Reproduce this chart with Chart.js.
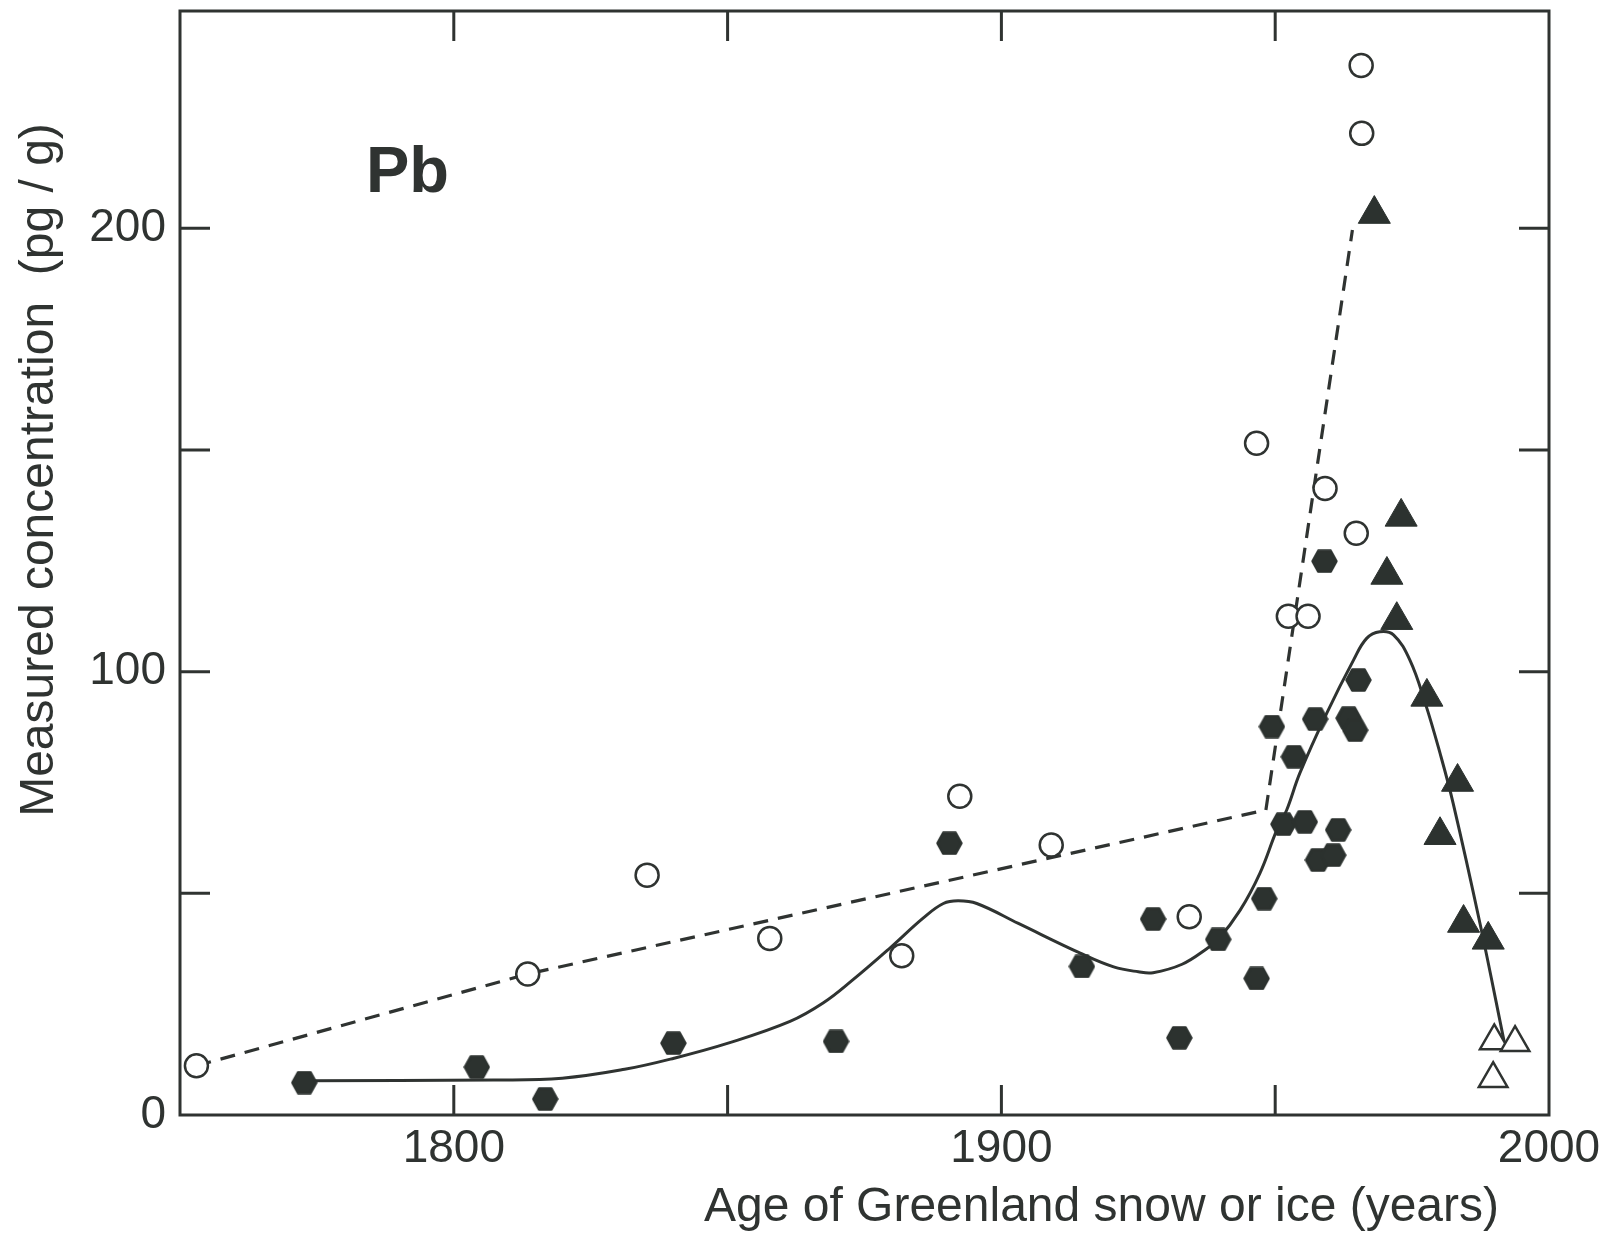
<!DOCTYPE html>
<html>
<head>
<meta charset="utf-8">
<script src="https://cdn.jsdelivr.net/npm/chart.js@4/dist/chart.umd.min.js"></script>
<style>
html, body { margin: 0; padding: 0; background: #ffffff; }
#wrap { width: 1614px; height: 1237px; position: relative; }
canvas { display: block; }
</style>
</head>
<body>
<div id="wrap"><canvas id="c" width="1614" height="1237"></canvas></div>
<script>
// ---- tick labels ----
const xTickValues = [1750, 1800, 1850, 1900, 1950, 2000];
const xTickLabels = ['', '1800', '', '1900', '', '2000'];
const yTickValues = [0, 50, 100, 150, 200];
const yTickLabels = ['0', '', '100', '', '200'];

// ---- open circles ----
const openCircleYear = [1753.0, 1813.5, 1835.3, 1857.7, 1881.8, 1892.4, 1909.1, 1934.3, 1946.6, 1952.4, 1956.0, 1959.1, 1964.8, 1965.7, 1965.8];
const openCirclePb   = [11.1, 31.8, 54.1, 39.8, 35.9, 71.9, 60.9, 44.7, 151.5, 112.5, 112.5, 141.3, 131.2, 236.7, 221.4];

// ---- filled circles (printed as hexagons) ----
const filledYear = [1772.7, 1804.2, 1816.7, 1840.1, 1869.8, 1890.5, 1914.7, 1927.7, 1932.5, 1939.6, 1946.6, 1948.0, 1949.4, 1951.5, 1953.4, 1955.4, 1957.3, 1959.0, 1957.8, 1960.6, 1961.5, 1963.4, 1964.6, 1965.2];
const filledPb   = [7.3, 10.8, 3.6, 16.2, 16.6, 61.3, 33.5, 44.2, 17.4, 39.6, 30.8, 48.8, 87.6, 65.6, 80.8, 66.1, 89.3, 124.9, 57.5, 58.6, 64.3, 89.5, 86.8, 98.1];

// ---- filled triangles ----
const filledTriYear = [1968.1, 1973.0, 1970.4, 1972.2, 1977.7, 1983.3, 1980.1, 1984.4, 1988.9];
const filledTriPb   = [203.2, 134.9, 121.8, 111.6, 94.3, 75.1, 63.1, 43.3, 39.5];

// ---- open triangles ----
const openTriYear = [1990.0, 1993.8, 1989.8];
const openTriPb   = [16.7, 16.3, 8.2];

// ---- dashed line ----
const dashYear = [1753.0, 1813.5, 1948.3, 1964.1];
const dashPb   = [11.1, 31.8, 68.8, 199.6];

// ---- smooth solid curve ----
const curveYear = [1772.8, 1807.3, 1819.8, 1831.2, 1840.2, 1850.1, 1861.4, 1867.5, 1872.8, 1879.6, 1885.7, 1889.4, 1892.1, 1895.5, 1903.1, 1914.4, 1920.5, 1925.0, 1927.7, 1933.0, 1937.5, 1939.6, 1943.6, 1947.2, 1950.3, 1952.1, 1954.5, 1959.4, 1964.3, 1966.7, 1969.1, 1971.6, 1974.6, 1977.4, 1980.1, 1982.5, 1987.4, 1992.0];
const curvePb   = [7.7, 7.9, 8.3, 10.3, 12.8, 16.2, 21.1, 25.3, 30.4, 37.6, 44.4, 47.7, 48.3, 47.7, 43.2, 36.5, 33.4, 32.3, 32.1, 34.0, 37.5, 39.6, 46.2, 54.5, 64.3, 68.8, 77.1, 90.6, 102.6, 107.5, 109.0, 108.3, 102.6, 92.9, 81.6, 70.3, 43.2, 15.4];

const xTitle = 'Age of Greenland snow or ice (years)';
const yTitle = 'Measured concentration  (pg / g)';
const panelLabel = 'Pb';

const INK = '#2f3331';
const MARK = '#2c322f';
const FONT = '"Liberation Sans", Arial, Helvetica, sans-serif';

function pts(xs, ys) { return xs.map((x, i) => ({ x: x, y: ys[i] })); }

function makeHex(w, h, color) {
  const c = document.createElement('canvas');
  c.width = w; c.height = h;
  const g = c.getContext('2d');
  g.fillStyle = color;
  g.strokeStyle = color;
  g.lineJoin = 'round';
  g.lineWidth = 2.5;
  g.beginPath();
  g.moveTo(1.5, h / 2);
  g.lineTo(w * 0.27, 1.5);
  g.lineTo(w * 0.73, 1.5);
  g.lineTo(w - 1.5, h / 2);
  g.lineTo(w * 0.73, h - 1.5);
  g.lineTo(w * 0.27, h - 1.5);
  g.closePath();
  g.fill();
  g.stroke();
  return c;
}
const hexImg = makeHex(27, 24, MARK);

const bgPlugin = {
  id: 'bg',
  beforeDraw(chart) {
    const ctx = chart.ctx;
    ctx.save();
    ctx.fillStyle = '#ffffff';
    ctx.fillRect(0, 0, chart.width, chart.height);
    ctx.restore();
  }
};

const framePlugin = {
  id: 'frame',
  beforeDatasetsDraw(chart) {
    const ctx = chart.ctx;
    const a = chart.chartArea;
    const xs = chart.scales.x, ys = chart.scales.y;
    ctx.save();
    ctx.strokeStyle = INK;
    ctx.lineWidth = 3;
    ctx.strokeRect(a.left, a.top, a.right - a.left, a.bottom - a.top);
    const L = 30;
    ctx.beginPath();
    xTickValues.forEach(v => {
      if (v <= xs.min || v >= xs.max) return;
      const px = xs.getPixelForValue(v);
      ctx.moveTo(px, a.bottom); ctx.lineTo(px, a.bottom - L);
      ctx.moveTo(px, a.top); ctx.lineTo(px, a.top + L);
    });
    yTickValues.forEach(v => {
      if (v <= ys.min || v >= ys.max) return;
      const py = ys.getPixelForValue(v);
      ctx.moveTo(a.left, py); ctx.lineTo(a.left + L, py);
      ctx.moveTo(a.right, py); ctx.lineTo(a.right - L, py);
    });
    ctx.stroke();
    ctx.restore();
  }
};

const textPlugin = {
  id: 'texts',
  afterDraw(chart) {
    const ctx = chart.ctx;
    ctx.save();
    ctx.fillStyle = INK;
    ctx.font = '48px ' + FONT;
    ctx.textAlign = 'right';
    ctx.textBaseline = 'alphabetic';
    ctx.fillText(xTitle, 1499, 1221);
    ctx.save();
    ctx.translate(53, 470);
    ctx.rotate(-Math.PI / 2);
    ctx.textAlign = 'center';
    ctx.fillText(yTitle, 0, 0);
    ctx.restore();
    ctx.font = 'bold 65px ' + FONT;
    ctx.textAlign = 'left';
    ctx.fillText(panelLabel, 366, 192);
    ctx.restore();
  }
};

new Chart(document.getElementById('c'), {
  type: 'scatter',
  data: {
    datasets: [
      {
        label: 'open triangles',
        data: pts(openTriYear, openTriPb),
        pointStyle: 'triangle',
        pointRadius: 16.5,
        backgroundColor: '#ffffff',
        borderColor: INK,
        borderWidth: 2.5,
        order: 1
      },
      {
        label: 'filled triangles',
        data: pts(filledTriYear, filledTriPb),
        pointStyle: 'triangle',
        pointRadius: 18.5,
        backgroundColor: MARK,
        borderColor: MARK,
        borderWidth: 1,
        order: 2
      },
      {
        label: 'filled circles',
        data: pts(filledYear, filledPb),
        pointStyle: hexImg,
        pointRadius: 12,
        backgroundColor: MARK,
        borderColor: MARK,
        order: 3
      },
      {
        label: 'open circles',
        data: pts(openCircleYear, openCirclePb),
        pointStyle: 'circle',
        pointRadius: 11.5,
        backgroundColor: '#ffffff',
        borderColor: INK,
        borderWidth: 2.5,
        order: 4
      },
      {
        label: 'curve',
        data: pts(curveYear, curvePb),
        showLine: true,
        pointRadius: 0,
        borderColor: INK,
        borderWidth: 3,
        tension: 0.4,
        fill: false,
        order: 5
      },
      {
        label: 'dashed',
        data: pts(dashYear, dashPb),
        showLine: true,
        pointRadius: 0,
        borderColor: INK,
        borderWidth: 3.2,
        borderDash: [15, 10],
        tension: 0,
        fill: false,
        order: 6
      }
    ]
  },
  options: {
    responsive: false,
    animation: false,
    devicePixelRatio: 1,
    layout: { autoPadding: false, padding: { left: 0, right: 65, top: 11, bottom: 0 } },
    plugins: {
      legend: { display: false },
      tooltip: { enabled: false },
      title: { display: false }
    },
    scales: {
      x: {
        type: 'linear',
        min: 1750,
        max: 2000,
        grid: { display: false, drawTicks: false },
        border: { display: false },
        afterBuildTicks: s => { s.ticks = xTickValues.map(v => ({ value: v })); },
        afterFit: s => { s.height = 122; s.paddingLeft = 0; s.paddingRight = 0; },
        ticks: {
          autoSkip: false,
          maxRotation: 0,
          padding: 7,
          color: INK,
          font: { family: FONT, size: 46 },
          callback: v => { const i = xTickValues.indexOf(v); return i >= 0 ? xTickLabels[i] : ''; }
        }
      },
      y: {
        type: 'linear',
        min: 0,
        max: 249,
        grid: { display: false, drawTicks: false },
        border: { display: false },
        afterBuildTicks: s => { s.ticks = yTickValues.map(v => ({ value: v })); },
        afterFit: s => { s.width = 180; s.paddingTop = 0; s.paddingBottom = 0; },
        ticks: {
          autoSkip: false,
          padding: 14,
          color: INK,
          font: { family: FONT, size: 46 },
          callback: v => { const i = yTickValues.indexOf(v); return i >= 0 ? yTickLabels[i] : ''; }
        }
      }
    }
  },
  plugins: [bgPlugin, framePlugin, textPlugin]
});
</script>
</body>
</html>
